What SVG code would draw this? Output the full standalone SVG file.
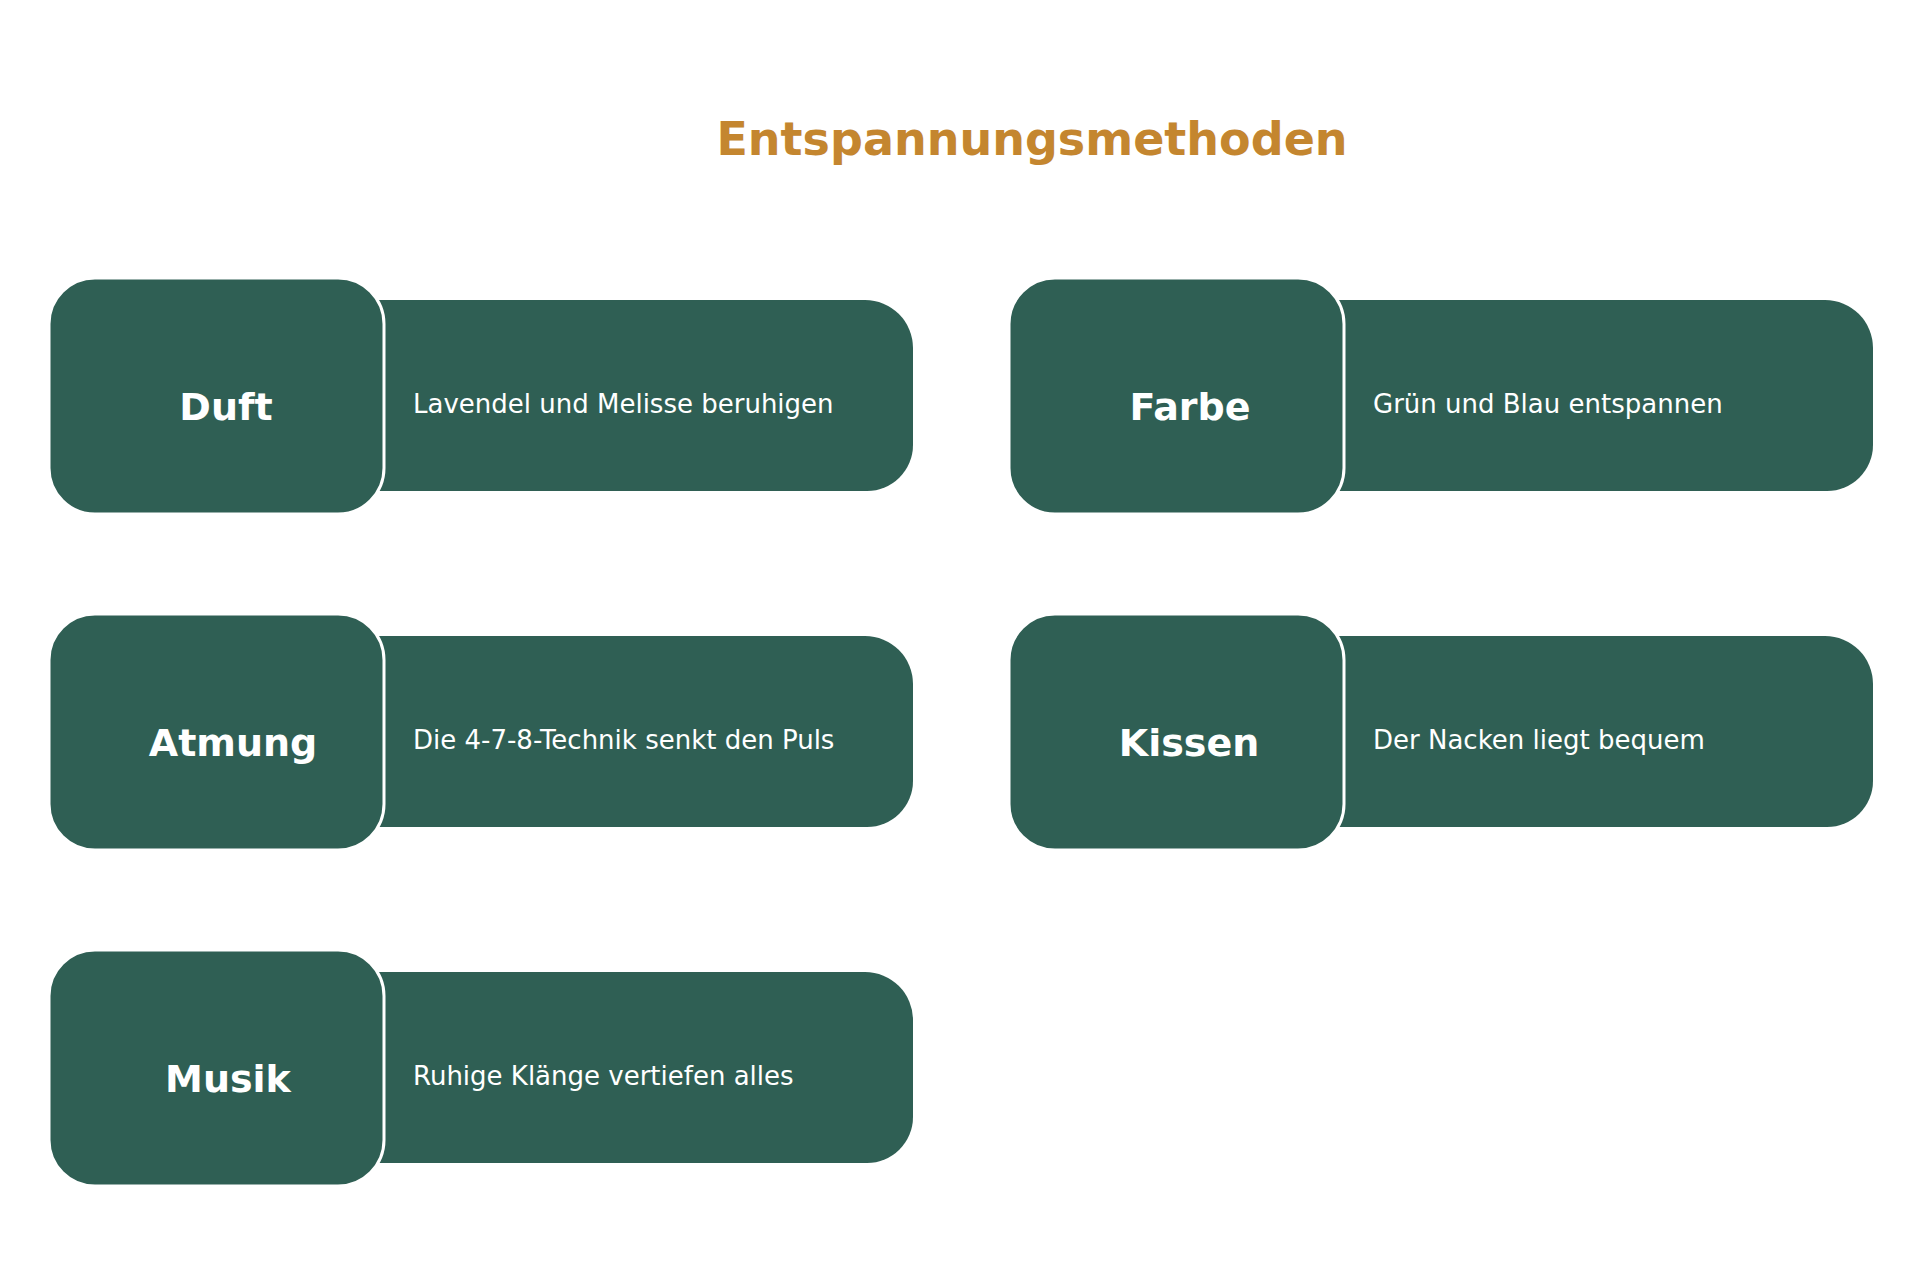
<svg xmlns="http://www.w3.org/2000/svg" width="1920" height="1284" viewBox="0 0 1920 1284">
<style>
.k{fill:#2F5F54;stroke:#fff;stroke-width:3}
.d{fill:#2F5F54}
.l{font-family:"DejaVu Sans",sans-serif;font-weight:bold;font-size:38px;fill:#fff;text-anchor:middle}
.t{font-family:"DejaVu Sans",sans-serif;font-size:26px;fill:#fff}
</style>
<rect width="1920" height="1284" fill="#fff"/>
<text x="1032" y="155" font-family="DejaVu Sans,sans-serif" font-weight="bold" font-size="46" fill="#C4862F" text-anchor="middle">Entspannungsmethoden</text>
<defs>
<g id="card">
<path class="d" d="M370 300 H865 A48 48 0 0 1 913 348 V445 A46 46 0 0 1 867 491 H370 Z"/>
<rect class="k" x="49" y="278" width="335" height="236" rx="46"/>
</g>
</defs>
<g id="duft"><use href="#card"/><text class="l" x="226" y="420">Duft</text><text class="t" x="413" y="413">Lavendel und Melisse beruhigen</text></g>
<g id="farbe"><use href="#card" x="960"/><text class="l" x="1190" y="420">Farbe</text><text class="t" x="1373" y="413">Grün und Blau entspannen</text></g>
<g id="atmung"><use href="#card" y="336"/><text class="l" x="233" y="756">Atmung</text><text class="t" x="413" y="749">Die 4-7-8-Technik senkt den Puls</text></g>
<g id="kissen"><use href="#card" x="960" y="336"/><text class="l" x="1189" y="756">Kissen</text><text class="t" x="1373" y="749">Der Nacken liegt bequem</text></g>
<g id="musik"><use href="#card" y="672"/><text class="l" x="228" y="1092">Musik</text><text class="t" x="413" y="1085">Ruhige Klänge vertiefen alles</text></g>
<g id="connectors"/>
</svg>
